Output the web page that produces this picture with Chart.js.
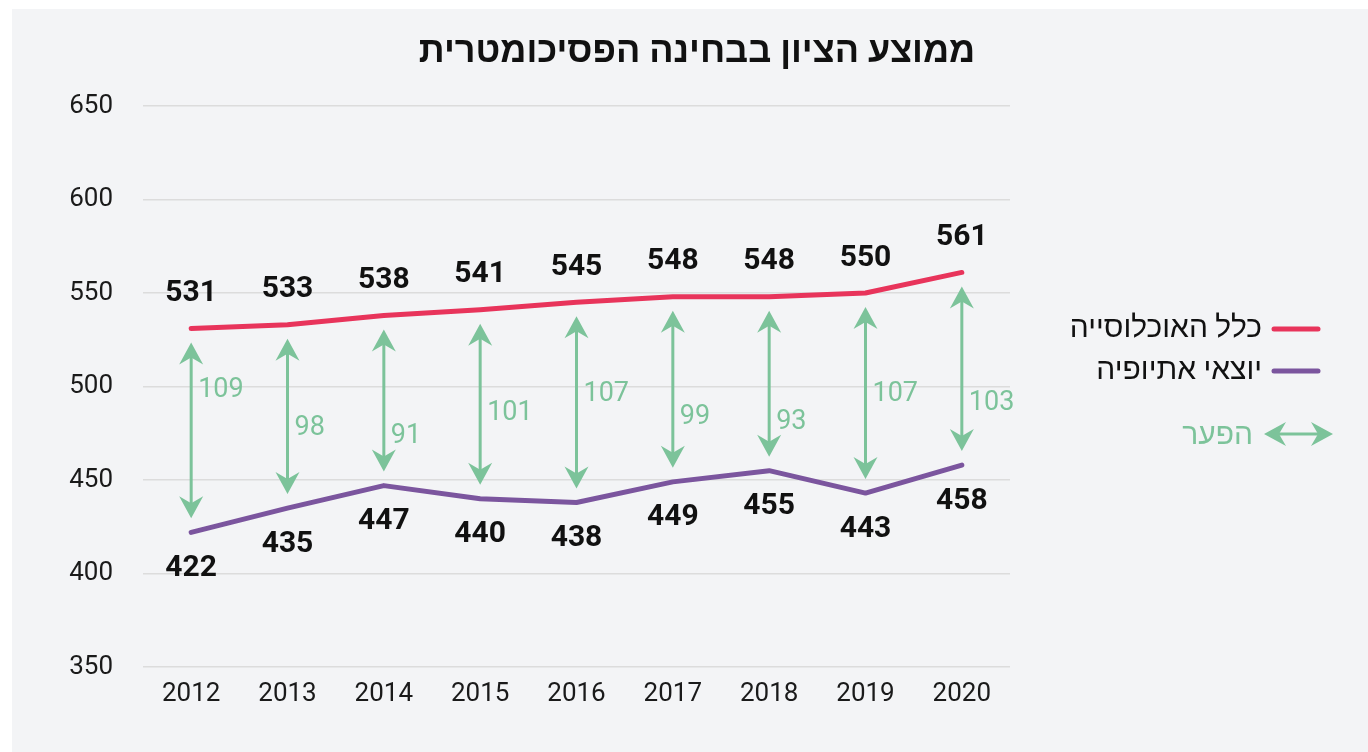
<!DOCTYPE html>
<html><head><meta charset="utf-8">
<script src="https://cdn.jsdelivr.net/npm/chart.js@4"></script>
<style>html,body{margin:0;padding:0;background:#fff;}#wrap{width:1368px;height:752px;position:relative;}canvas{display:block;}</style>
</head><body><div id="wrap"><canvas id="c" width="1368" height="752"></canvas></div>
<script>
const titleText = 'ממוצע הציון בבחינה הפסיכומטרית';
const years = ['2012','2013','2014','2015','2016','2017','2018','2019','2020'];
const allPopulation = [531,533,538,541,545,548,548,550,561];
const ethiopianOrigin = [422,435,447,440,438,449,455,443,458];
const gaps = [109,98,91,101,107,99,93,107,103];
const gapLabelScore = [497.8,477.6,473.3,485.6,495.7,483.6,480.9,495.7,490.9];
const yTicks = [350,400,450,500,550,600,650];
const seriesNames = ['כלל האוכלוסייה','יוצאי אתיופיה'];
const gapName = 'הפער';

const RED = '#e8345b', PURPLE = '#7b559e', GREEN = '#7cc39a';
const NUMF = 'Roboto, "Liberation Sans", sans-serif';
const HEBF = 'Roboto, "Liberation Sans", "DejaVu Sans", sans-serif';

function arrowHead(ctx, x, y, dir) {
  const L = 22, W = 12, N = 15;
  ctx.beginPath();
  ctx.moveTo(x, y);
  ctx.lineTo(x - W, y - dir * L);
  ctx.lineTo(x, y - dir * N);
  ctx.lineTo(x + W, y - dir * L);
  ctx.closePath();
  ctx.fill();
}
function hArrowHead(ctx, x, y, dir) {
  const L = 22, W = 12, N = 15;
  ctx.beginPath();
  ctx.moveTo(x, y);
  ctx.lineTo(x - dir * L, y - W);
  ctx.lineTo(x - dir * N, y);
  ctx.lineTo(x - dir * L, y + W);
  ctx.closePath();
  ctx.fill();
}

const decor = {
  id: 'decor',
  beforeDraw(chart) {
    const ctx = chart.ctx;
    ctx.save();
    ctx.fillStyle = '#f3f4f6';
    ctx.fillRect(12, 9, chart.width - 12, chart.height - 9);
    ctx.restore();
  },
  afterDatasetsDraw(chart) {
    const ctx = chart.ctx;
    const xs = chart.scales.x, ys = chart.scales.y;
    ctx.save();
    ctx.direction = 'ltr';
    ctx.strokeStyle = GREEN; ctx.fillStyle = GREEN; ctx.lineWidth = 3;
    years.forEach((yr, i) => {
      const x = xs.getPixelForValue(i);
      const top = ys.getPixelForValue(allPopulation[i]) + 14;
      const bot = ys.getPixelForValue(ethiopianOrigin[i]) - 14;
      ctx.beginPath(); ctx.moveTo(x, top + 10); ctx.lineTo(x, bot - 10); ctx.stroke();
      arrowHead(ctx, x, top, -1);
      arrowHead(ctx, x, bot, 1);
      ctx.font = '27px ' + NUMF;
      ctx.textAlign = 'left'; ctx.textBaseline = 'middle';
      ctx.fillText(String(gaps[i]), x + 7, ys.getPixelForValue(gapLabelScore[i]));
    });
    ctx.fillStyle = '#111';
    ctx.font = 'bold 30px ' + NUMF;
    ctx.textAlign = 'center'; ctx.textBaseline = 'middle';
    chart.getDatasetMeta(0).data.forEach((p, i) => ctx.fillText(String(allPopulation[i]), p.x, p.y - 35));
    chart.getDatasetMeta(1).data.forEach((p, i) => ctx.fillText(String(ethiopianOrigin[i]), p.x, p.y + 36));
    ctx.font = 'bold 36px ' + HEBF;
    ctx.textAlign = 'center';
    ctx.fillText(titleText, 697, 53);
    ctx.font = '30px ' + HEBF;
    ctx.lineCap = 'round'; ctx.lineWidth = 5;
    const legendRows = [[seriesNames[0], RED, 329], [seriesNames[1], PURPLE, 371]];
    legendRows.forEach(([t, c, y]) => {
      ctx.strokeStyle = c;
      ctx.beginPath(); ctx.moveTo(1274, y); ctx.lineTo(1318, y); ctx.stroke();
      ctx.fillStyle = '#111';
      ctx.textAlign = 'left';
      ctx.fillText(t, 1262 - ctx.measureText(t).width, y);
    });
    ctx.fillStyle = GREEN; ctx.strokeStyle = GREEN; ctx.lineWidth = 3; ctx.lineCap = 'butt';
    ctx.beginPath(); ctx.moveTo(1274, 434); ctx.lineTo(1323, 434); ctx.stroke();
    hArrowHead(ctx, 1264, 434, -1);
    hArrowHead(ctx, 1333, 434, 1);
    ctx.textAlign = 'left';
    ctx.fillText(gapName, 1253 - ctx.measureText(gapName).width, 436);
    ctx.restore();
  }
};

new Chart(document.getElementById('c'), {
  type: 'line',
  data: {
    labels: years,
    datasets: [
      { label: seriesNames[0], data: allPopulation, borderColor: RED, backgroundColor: RED, borderWidth: 5, pointRadius: 0, tension: 0, borderCapStyle: 'round', borderJoinStyle: 'round' },
      { label: seriesNames[1], data: ethiopianOrigin, borderColor: PURPLE, backgroundColor: PURPLE, borderWidth: 5, pointRadius: 0, tension: 0, borderCapStyle: 'round', borderJoinStyle: 'round' }
    ]
  },
  options: {
    responsive: false,
    animation: false,
    devicePixelRatio: 1,
    layout: { padding: { top: 106, right: 358, left: 0, bottom: 0 } },
    plugins: { legend: { display: false }, tooltip: { enabled: false }, title: { display: false } },
    scales: {
      x: {
        offset: true,
        grid: { display: false, drawTicks: false },
        border: { display: false },
        ticks: { color: '#1a1a1a', font: { family: NUMF, size: 26 }, padding: 12, maxRotation: 0 },
        afterFit(s) { s.height = 85; }
      },
      y: {
        min: 350, max: 650,
        afterBuildTicks(s) { s.ticks = yTicks.map(v => ({ value: v })); },
        grid: { color: '#dcdcdc', lineWidth: 1.5, drawTicks: false },
        border: { display: false },
        ticks: { color: '#1a1a1a', font: { family: NUMF, size: 26 }, padding: 30 },
        afterFit(s) { s.width = 143; }
      }
    }
  },
  plugins: [decor]
});
</script></body></html>
